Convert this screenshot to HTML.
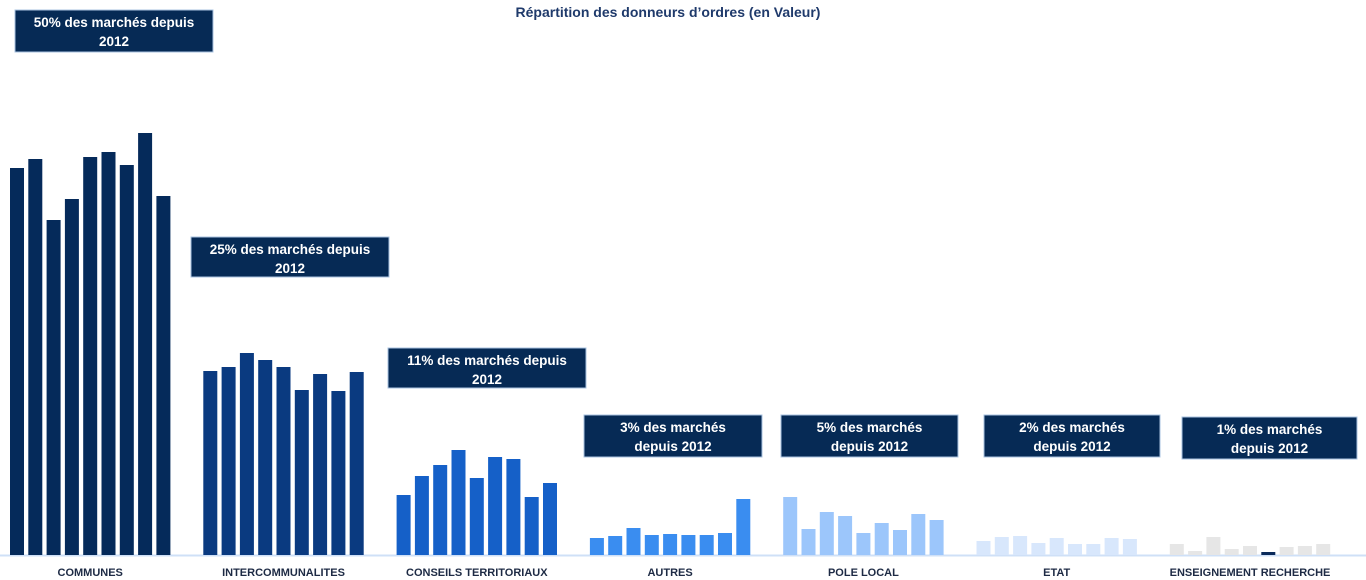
<!DOCTYPE html>
<html><head><meta charset="utf-8"><style>
body{margin:0;background:#fff;font-family:"Liberation Sans",sans-serif;}
svg{display:block}
</style></head><body>
<svg id="chart" width="1366" height="580">
<text x="668" y="17" text-anchor="middle" font-size="14" font-weight="bold" fill="#1f3a6b">Répartition des donneurs d’ordres (en Valeur)</text>
<line x1="0" y1="555.5" x2="1366" y2="555.5" stroke="#cfe0f7" stroke-width="2"/>
<g id="bars"></g><g id="labels"></g><g id="notes"></g>
</svg>
<script>
const categories=["COMMUNES","INTERCOMMUNALITES","CONSEILS TERRITORIAUX","AUTRES","POLE LOCAL","ETAT","ENSEIGNEMENT RECHERCHE"];
const communes=[387,396,335,356,398,403,390,422,359];
const intercommunalites=[184,188,202,195,188,165,181,164,183];
const conseils=[60,79,90,105,77,98,96,58,72];
const autres=[17,19,27,20,21,20,20,22,56];
const poleLocal=[58,26,43,39,22,32,25,41,35];
const etat=[14,18,19,12,17,11,11,17,16];
const enseignement=[11,4,18,6,9,3,8,9,11];
const series=[communes,intercommunalites,conseils,autres,poleLocal,etat,enseignement];
const notes=[["50% des marchés depuis","2012"],["25% des marchés depuis","2012"],["11% des marchés depuis","2012"],["3% des marchés","depuis 2012"],["5% des marchés","depuis 2012"],["2% des marchés","depuis 2012"],["1% des marchés","depuis 2012"]];
const colors=["#052a5a","#0a3a80","#1560c8","#3a8df0","#9cc6fb","#d8e7fc","#e6e6e6"];
const NS="http://www.w3.org/2000/svg";
const base=555, groupX0=10, groupStep=193.3, barStep=18.3, barW=14;
const y=v=>base-v;
const gx=i=>groupX0+i*groupStep;
const noteBoxes=[[15,10,198,42],[191,237,198,40],[388,348,198,40],[584,415,178,42],[781,415,177,42],[984,415,176,42],[1182,417,175,42]];
const bars=document.getElementById('bars'),labels=document.getElementById('labels'),nts=document.getElementById('notes');
series.forEach((s,i)=>{
  s.forEach((v,j)=>{
    const r=document.createElementNS(NS,'rect');
    
    
    r.setAttribute('x',gx(i)+j*barStep);r.setAttribute('y',y(v));
    r.setAttribute('width',barW);r.setAttribute('height',v);
    r.setAttribute('fill',(i==6&&j==5)?'#0a2a5a':colors[i]);
    bars.appendChild(r);
  });
  const t=document.createElementNS(NS,'text');
  
  
  t.setAttribute('x',gx(i)+(8*barStep+barW)/2);t.setAttribute('y',576);
  t.setAttribute('text-anchor','middle');t.setAttribute('font-size','11');t.setAttribute('font-weight','bold');t.setAttribute('fill','#1d2a44');
  t.textContent=categories[i];labels.appendChild(t);
  const b=noteBoxes[i];
  const g=document.createElementNS(NS,'g');
  
  
  const r=document.createElementNS(NS,'rect');
  r.setAttribute('x',b[0]);r.setAttribute('y',b[1]);r.setAttribute('width',b[2]);r.setAttribute('height',b[3]);
  r.setAttribute('fill','#062a55');r.setAttribute('stroke','#a9c3e0');r.setAttribute('stroke-width','1');
  g.appendChild(r);
  notes[i].forEach((ln,k)=>{
    const tt=document.createElementNS(NS,'text');
    tt.setAttribute('x',b[0]+b[2]/2);tt.setAttribute('y',b[1]+17+k*19);
    tt.setAttribute('text-anchor','middle');tt.setAttribute('font-size','13.5');tt.setAttribute('font-weight','bold');tt.setAttribute('fill','#fff');
    tt.textContent=ln;g.appendChild(tt);
  });
  nts.appendChild(g);
});
</script>
</body></html>
